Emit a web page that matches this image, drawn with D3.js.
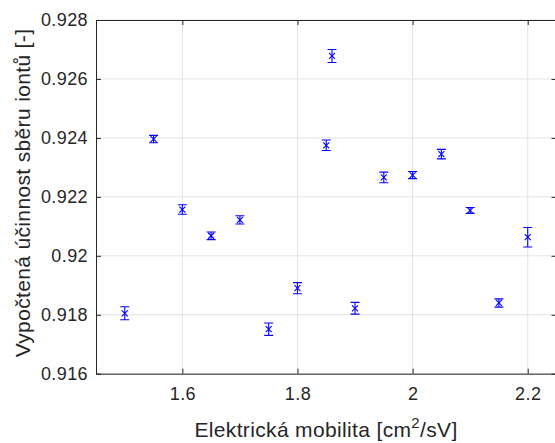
<!DOCTYPE html>
<html>
<head>
<meta charset="utf-8">
<script src="https://cdn.jsdelivr.net/npm/d3@7"></script>
<style>
  html, body { margin: 0; padding: 0; background: #fff; }
  svg { display: block; font-family: "Liberation Sans", Arial, Helvetica, sans-serif; }
</style>
</head>
<body>
<svg id="chart" width="555" height="443"></svg>
<script>
// Electric mobility values [cm^2/sV]
const mobility = [1.5, 1.55, 1.6, 1.65, 1.7, 1.75, 1.8, 1.85, 1.86, 1.9, 1.95, 2.0, 2.05, 2.1, 2.15, 2.2];
// Computed ion collection efficiency [-]
const efficiency = [0.91805, 0.92396, 0.92157, 0.92068, 0.92122, 0.91751, 0.91890, 0.92375,
                    0.92678, 0.91822, 0.92266, 0.92274, 0.92345, 0.92154, 0.91840, 0.92063];
// Half-width of each error bar
const errHalf = [0.00022, 0.000125, 0.00016, 0.00013, 0.00014, 0.00021, 0.00019, 0.00018,
                 0.00022, 0.00020, 0.00018, 0.00012, 0.00016, 0.00010, 0.00014, 0.00033];

const xTicks = [1.6, 1.8, 2.0, 2.2];
const yTicks = [0.916, 0.918, 0.920, 0.922, 0.924, 0.926, 0.928];

const xLabel = "Elektrická mobilita [cm";
const xLabelSup = "2";
const xLabelTail = "/sV]";
const yLabel = "Vypočtená účinnost sběru iontů [-]";

const svg = d3.select("#chart");
const plotLeft = 96, plotTop = 20, plotRight = 556.5, plotBottom = 373.7;

const x = d3.scaleLinear().domain([1.45, 2.25]).range([plotLeft, plotRight]);
const y = d3.scaleLinear().domain([0.916, 0.928]).range([plotBottom, plotTop]);

const axisColor = "#262626";
const gridColor = "#e3e3e3";
const markColor = "#0000ff";
const fmt = d => String(+d.toFixed(3));

// grid
const grid = svg.append("g");
grid.selectAll("line.gx").data(xTicks).join("line")
  .attr("x1", d => x(d)).attr("x2", d => x(d))
  .attr("y1", plotTop).attr("y2", plotBottom)
  .attr("stroke", gridColor).attr("stroke-width", 1);
grid.selectAll("line.gy").data(yTicks).join("line")
  .attr("x1", plotLeft).attr("x2", plotRight)
  .attr("y1", d => y(d)).attr("y2", d => y(d))
  .attr("stroke", gridColor).attr("stroke-width", 1);

// axes (ticks pointing inward, box around the plot)
const tickLen = 5;
const xAxisB = d3.axisBottom(x).tickValues(xTicks).tickSize(-tickLen).tickSizeOuter(0).tickPadding(14).tickFormat(fmt);
const xAxisT = d3.axisTop(x).tickValues(xTicks).tickSize(-tickLen).tickSizeOuter(0).tickFormat("");
const yAxisL = d3.axisLeft(y).tickValues(yTicks).tickSize(-tickLen).tickSizeOuter(0).tickPadding(8).tickFormat(fmt);
const yAxisR = d3.axisRight(y).tickValues(yTicks).tickSize(-tickLen).tickSizeOuter(0).tickFormat("");

function styleAxis(g) {
  g.selectAll(".domain").attr("stroke", axisColor).attr("stroke-width", 1);
  g.selectAll(".tick line").attr("stroke", axisColor).attr("stroke-width", 1);
  g.selectAll(".tick text").attr("fill", axisColor).attr("font-size", 18)
    .attr("letter-spacing", 0.4)
    .attr("font-family", "Liberation Sans, Arial, sans-serif");
}

svg.append("g").attr("transform", `translate(0,${plotBottom})`).call(xAxisB).call(styleAxis);
svg.append("g").attr("transform", `translate(0,${plotTop})`).call(xAxisT).call(styleAxis);
svg.append("g").attr("transform", `translate(${plotLeft},0)`).call(yAxisL).call(styleAxis);
svg.append("g").attr("transform", `translate(${plotRight},0)`).call(yAxisR).call(styleAxis);

// error bars
const data = mobility.map((m, i) => ({ m, e: efficiency[i], h: errHalf[i] }));
const capW = 4.5;
const eb = svg.append("g").attr("stroke", markColor).attr("stroke-width", 1.1).attr("fill", "none");
eb.selectAll("path.bar").data(data).join("path").attr("class", "bar")
  .attr("d", d => {
    const cx = x(d.m), y1 = y(d.e + d.h), y2 = y(d.e - d.h);
    return `M${cx},${y1}V${y2}M${cx - capW},${y1}H${cx + capW}M${cx - capW},${y2}H${cx + capW}`;
  });

// x markers
const mk = 3;
eb.selectAll("path.mark").data(data).join("path").attr("class", "mark")
  .attr("d", d => {
    const cx = x(d.m), cy = y(d.e);
    return `M${cx - mk},${cy - mk}L${cx + mk},${cy + mk}M${cx - mk},${cy + mk}L${cx + mk},${cy - mk}`;
  });

// axis labels
const xl = svg.append("text")
  .attr("x", 326).attr("y", 437)
  .attr("text-anchor", "middle").attr("font-size", 21).attr("letter-spacing", 0.35)
  .attr("fill", axisColor);
xl.append("tspan").text(xLabel);
xl.append("tspan").attr("font-size", 15).attr("dy", -9).text(xLabelSup);
xl.append("tspan").attr("dy", 9).text(xLabelTail);

svg.append("text")
  .attr("transform", `translate(30,193) rotate(-90)`)
  .attr("text-anchor", "middle").attr("font-size", 21).attr("letter-spacing", 0.35)
  .attr("fill", axisColor)
  .text(yLabel);
</script>
</body>
</html>
